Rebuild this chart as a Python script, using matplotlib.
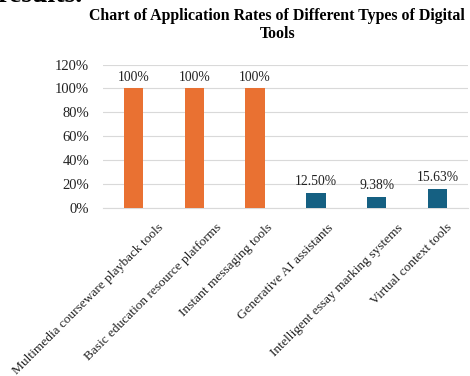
import matplotlib
matplotlib.use("Agg")
import matplotlib.pyplot as plt
from matplotlib.transforms import ScaledTranslation

categories = [
    "Multimedia courseware playback tools",
    "Basic education resource platforms",
    "Instant messaging tools",
    "Generative AI assistants",
    "Intelligent essay marking systems",
    "Virtual context tools",
]
rates = [100, 100, 100, 12.50, 9.38, 15.63]
value_labels = ["100%", "100%", "100%", "12.50%", "9.38%", "15.63%"]
y_ticks = [0, 20, 40, 60, 80, 100, 120]
y_tick_labels = ["0%", "20%", "40%", "60%", "80%", "100%", "120%"]

ORANGE = "#E97132"
BLUE = "#156082"
colors = [ORANGE, ORANGE, ORANGE, BLUE, BLUE, BLUE]

plt.rcParams["font.family"] = ["Liberation Serif", "DejaVu Serif"]

W, H = 470, 376
fig = plt.figure(figsize=(W / 100, H / 100), dpi=100)
ax = fig.add_axes([103 / W, 1 - 208 / H, 365 / W, (208 - 64.5) / H])

x = list(range(len(categories)))
bars = ax.bar(x, rates, width=0.32, color=colors, zorder=3)

for b, lab in zip(bars, value_labels):
    ax.annotate(lab, (b.get_x() + b.get_width() / 2, b.get_height()),
                xytext=(0, 3.5), textcoords="offset points",
                ha="center", va="bottom", fontsize=9.8, color="#222222")

ax.set_xlim(-0.5, len(categories) - 0.5)
ax.set_ylim(0, 120)
ax.set_yticks(y_ticks)
ax.set_yticklabels(y_tick_labels, fontsize=10.5, color="#222222")
ax.tick_params(axis="y", length=0, pad=10)
ax.grid(axis="y", color="#D9D9D9", linewidth=0.8, zorder=0)
for s in ["top", "right", "left"]:
    ax.spines[s].set_visible(False)
ax.spines["bottom"].set_color("#D9D9D9")
ax.spines["bottom"].set_linewidth(0.8)

ax.set_xticks(x)
ax.set_xticklabels([])
ax.tick_params(axis="x", length=0)

# rotated category labels, top ends aligned just below the axis
fig.canvas.draw()
renderer = fig.canvas.get_renderer()
labels = []
for xi, name in zip(x, categories):
    t = ax.text(xi, 0, name, rotation=45, rotation_mode="anchor",
                ha="right", va="center", fontsize=9.6, color="#222222",
                transform=ax.get_xaxis_transform())
    labels.append(t)
fig.canvas.draw()
for t in labels:
    ext = t.get_window_extent(renderer)
    dx = -6 + 0.22 * ext.width
    t.set_transform(ax.get_xaxis_transform() +
                    ScaledTranslation(dx / 100, -18 / 100, fig.dpi_scale_trans))

fig.text(277 / W, 1 - 16 / H, "Chart of Application Rates of Different Types of Digital",
         ha="center", va="center", fontsize=11.4, fontweight="bold")
fig.text(278 / W, 1 - 33.5 / H, "Tools", ha="center", va="center",
         fontsize=11.4, fontweight="bold")
fig.text(-3 / W, 1 - 1.5 / H, "results.", ha="left", va="baseline",
         fontsize=20, fontweight="bold")

fig.savefig("out.png", dpi=100)
